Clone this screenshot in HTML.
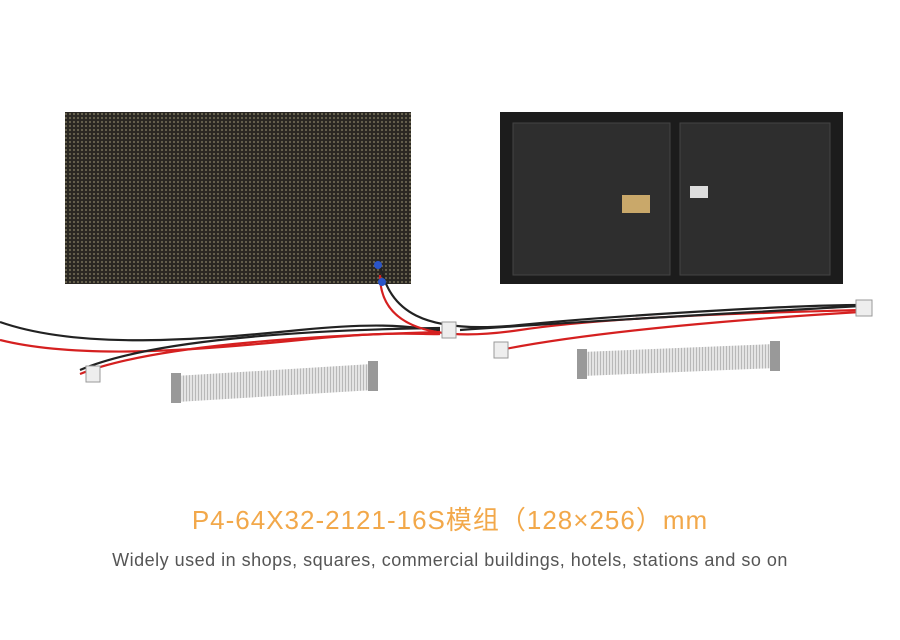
<!DOCTYPE html>
<html><head><meta charset="utf-8"><style>
html,body{margin:0;padding:0;background:#fff;width:900px;height:640px;overflow:hidden}
.t1{position:absolute;left:0;width:900px;top:500px;text-align:center;color:#f2a84a;font:26px "Liberation Sans","Noto Sans CJK SC",sans-serif;letter-spacing:1px}
.t2{position:absolute;left:0;width:900px;top:550px;text-align:center;color:#555;font:18px "Liberation Sans",sans-serif;letter-spacing:0.5px}
</style></head><body>
<svg width="900" height="640" style="position:absolute;left:0;top:0">
<defs>
<pattern id="led" width="4" height="4" patternUnits="userSpaceOnUse">
<rect width="4" height="4" fill="#2a2722"/><circle cx="2" cy="2" r="1.1" fill="#6b6550"/>
</pattern>
<pattern id="rib" width="3" height="20" patternUnits="userSpaceOnUse">
<rect width="3" height="20" fill="#e4e4e4"/><rect width="1" height="20" fill="#b8b8b8"/>
</pattern>
</defs>
<rect x="65" y="112" width="346" height="172" fill="url(#led)"/>
<rect x="500" y="112" width="343" height="172" fill="#1c1c1c"/>
<rect x="513" y="123" width="157" height="152" fill="#2e2e2e" stroke="#444"/>
<rect x="680" y="123" width="150" height="152" fill="#2e2e2e" stroke="#444"/>
<rect x="622" y="195" width="28" height="18" fill="#c9a86a"/>
<rect x="690" y="186" width="18" height="12" fill="#ddd"/>
<g fill="none" stroke-width="2.2">
<path d="M0 322 C80 350 200 340 300 330 S420 330 440 330" stroke="#222"/>
<path d="M0 340 C80 360 200 350 300 340 S420 335 440 334" stroke="#d52020"/>
<path d="M80 370 C150 340 300 330 440 328" stroke="#222"/>
<path d="M80 374 C150 346 300 336 440 332" stroke="#d52020"/>
<path d="M380 265 C390 310 420 335 520 325 S800 305 860 305" stroke="#222"/>
<path d="M380 275 C380 320 420 345 520 330 S800 312 860 310" stroke="#d52020"/>
<path d="M460 330 C600 320 760 312 860 306" stroke="#222"/>
<path d="M500 350 C600 330 760 318 860 312" stroke="#d52020"/>
</g>
<rect x="86" y="366" width="14" height="16" fill="#eee" stroke="#999"/>
<rect x="442" y="322" width="14" height="16" fill="#eee" stroke="#999"/>
<rect x="494" y="342" width="14" height="16" fill="#eee" stroke="#999"/>
<rect x="856" y="300" width="16" height="16" fill="#eee" stroke="#999"/>
<circle cx="378" cy="265" r="4" fill="#2a55c8"/>
<circle cx="382" cy="282" r="4" fill="#2a55c8"/>
<polygon points="175,376 372,364 374,390 177,402" fill="url(#rib)"/>
<rect x="171" y="373" width="10" height="30" fill="#999"/>
<rect x="368" y="361" width="10" height="30" fill="#999"/>
<polygon points="582,352 775,344 776,368 583,376" fill="url(#rib)"/>
<rect x="577" y="349" width="10" height="30" fill="#999"/>
<rect x="770" y="341" width="10" height="30" fill="#999"/>
</svg>
<div class="t1">P4-64X32-2121-16S模组（128×256）mm</div>
<div class="t2">Widely used in shops, squares, commercial buildings, hotels, stations and so on</div>
</body></html>
